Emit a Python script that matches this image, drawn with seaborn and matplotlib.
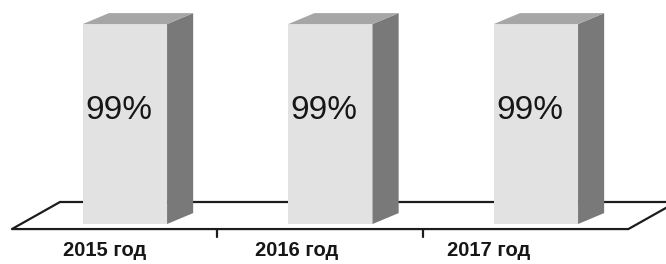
import seaborn as sns
import matplotlib.pyplot as plt
import pandas as pd
from matplotlib.patches import Polygon

years = ["2015 год", "2016 год", "2017 год"]
values = [99, 99, 99]
value_labels = ["99%", "99%", "99%"]

FRONT = "#e2e2e2"
TOP = "#a6a6a6"
SIDE = "#797979"
LINE = "#1c1c1c"

# oblique depth of the bars and of the floor (data units)
BAR_DX, BAR_DY = 0.127, 5.4
FLOOR_DX, FLOOR_DY = 0.234, 13.4


def _draw_floor(ax):
    x0, x1, y0 = -0.55, 2.45, -2.5
    # back edge, behind the bars
    ax.plot([x0 + FLOOR_DX, 2.75], [y0 + FLOOR_DY] * 2, color=LINE, lw=1.6, zorder=0)
    # front edge, sides and ticks
    ax.plot([x0 + FLOOR_DX, x0, x1, x1 + FLOOR_DX],
            [y0 + FLOOR_DY, y0, y0, y0 + FLOOR_DY],
            color=LINE, lw=1.6, zorder=1)
    for t in range(1, len(years)):
        ax.plot([x0 + t, x0 + t], [y0, y0 - 4], color=LINE, lw=1.6, zorder=1)


def main():
    sns.set_theme(style="white")
    plt.rcParams["font.family"] = ["Liberation Sans", "DejaVu Sans"]

    df = pd.DataFrame({"year": years, "value": values})
    fig = plt.figure(figsize=(6.66, 2.64), dpi=100)
    ax = fig.add_axes([0, 0, 1, 1])
    _draw_floor(ax)

    sns.barplot(data=df, x="year", y="value", color=FRONT, saturation=1,
                width=0.41, linewidth=0, ax=ax, zorder=2)

    for bar, label in zip(ax.patches, value_labels):
        x, y = bar.get_x(), bar.get_y()
        w, h = bar.get_width(), bar.get_height()
        side = Polygon([(x + w, y), (x + w + BAR_DX, y + BAR_DY),
                        (x + w + BAR_DX, y + h + BAR_DY), (x + w, y + h)],
                       closed=True, facecolor=SIDE, edgecolor="none", zorder=2)
        top = Polygon([(x, y + h), (x + w, y + h),
                       (x + w + BAR_DX, y + h + BAR_DY), (x + BAR_DX, y + h + BAR_DY)],
                      closed=True, facecolor=TOP, edgecolor="none", zorder=2)
        ax.add_patch(side)
        ax.add_patch(top)
        ax.text(x + w / 2 - 0.03, h * 0.57, label, ha="center", va="center",
                fontsize=24, color="#161616", zorder=3)

    for i, name in enumerate(years):
        ax.text(i * 0.935 - 0.1, -13, name, ha="center", va="center",
                fontsize=14.5, fontweight="bold", color="#161616")

    ax.set_xlim(-0.608, 2.633)
    ax.set_ylim(-19.8, 110.9)
    ax.axis("off")
    fig.savefig("out.png", dpi=100)


main()
